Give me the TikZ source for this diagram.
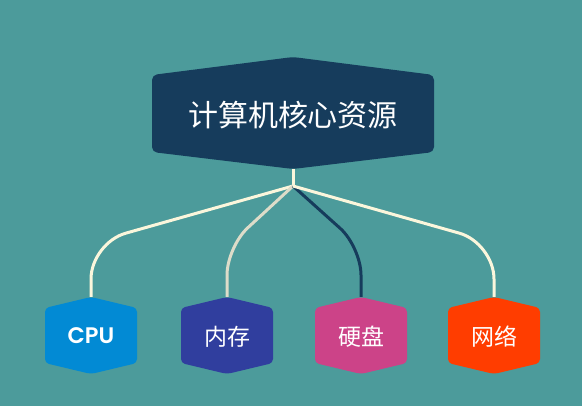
\documentclass[tikz,border=0pt]{standalone}
\usepackage{fontspec}
\newfontfamily\cjk{Noto Sans CJK SC}
\newfontfamily\cpufont{Poppins SemiBold}
\usepackage{tikz}
\definecolor{bgteal}{HTML}{4C9B9B}
\definecolor{rootnavy}{HTML}{163C5C}
\definecolor{cream}{HTML}{FBF6DC}
\definecolor{greycream}{HTML}{DDDCC9}
\definecolor{cpublue}{HTML}{028AD4}
\definecolor{memblue}{HTML}{303E9E}
\definecolor{diskpink}{HTML}{CC4388}
\definecolor{netred}{HTML}{FF3D00}

\begin{document}
\begin{tikzpicture}[x=1pt, y=-1pt,
      link/.style={line width=3pt, rounded corners=36pt},
      roottext/.style={text=white, font=\cjk\fontsize{30}{30}\selectfont, inner sep=0pt},
      leaftext/.style={text=white, font=\cjk\fontsize{23}{23}\selectfont, inner sep=0pt}]
      \fill[bgteal] (0,0) rectangle (582,406);
      % root box
      \fill[rootnavy, rounded corners=5pt] (152,75) -- (293,57) -- (434,75) -- (434,152) -- (293,169) -- (152,152) -- cycle;
      \node[roottext] (root) at (293,115) {计算机核心资源};
      \coordinate (root-tip) at (293,169);
      \coordinate (hub) at (293,186);
      % leaves
      \foreach \name/\cx/\col in {cpu/91/cpublue, mem/227/memblue, disk/361/diskpink, net/494/netred} {
        \fill[\col, rounded corners=4pt] (\cx-46,308) -- (\cx,297) -- (\cx+46,308) -- (\cx+46,363) -- (\cx,374) -- (\cx-46,363) -- cycle;
        \coordinate (\name-top) at (\cx,297);
      }
      \node[leaftext, font=\cpufont\fontsize{22.5}{23}\selectfont] (cpu) at (91,335.5) {CPU};
      \node[leaftext] (mem) at (227,337) {内存};
      \node[leaftext] (disk) at (361,337) {硬盘};
      \node[leaftext] (net) at (494,337) {网络};
      % links
      \draw[link, cream] (root-tip) -- (hub);
      \draw[link, cream] (hub) -- ([yshift=54pt]cpu-top) -- (cpu-top);
      \draw[link, greycream, rounded corners=28pt] (hub) -- ([yshift=50pt]mem-top) -- (mem-top);
      \draw[link, rootnavy, rounded corners=28pt] (hub) -- ([yshift=50pt]disk-top) -- (disk-top);
      \draw[link, cream] (hub) -- ([yshift=54pt]net-top) -- (net-top);
\end{tikzpicture}
\end{document}
